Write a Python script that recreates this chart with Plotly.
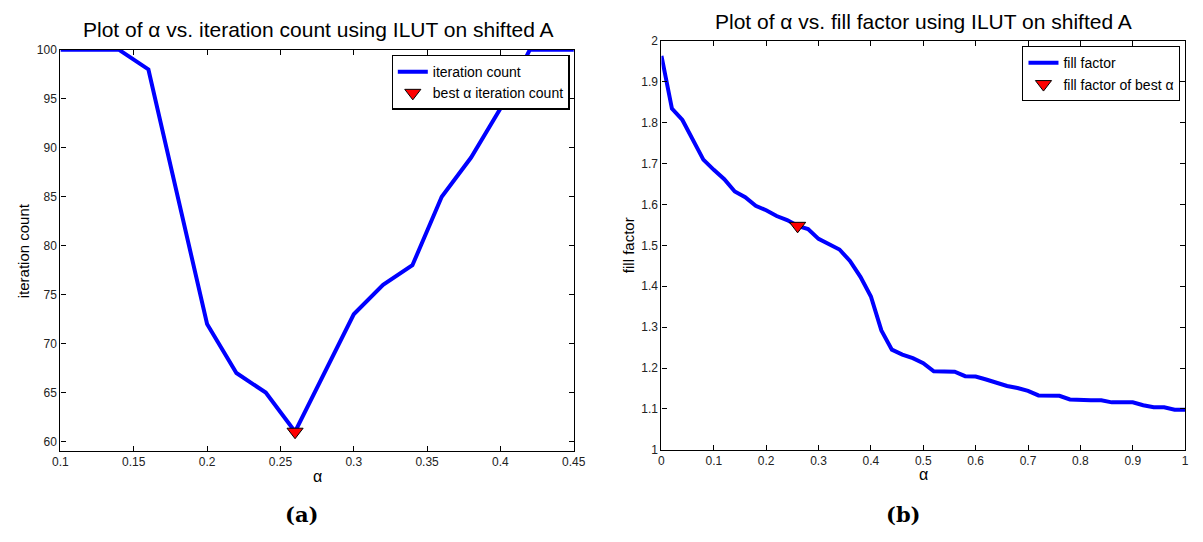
import plotly.graph_objects as go

# ---- data: panel (a) ----
alpha_a = [0.10, 0.12, 0.14, 0.16, 0.18, 0.20, 0.22, 0.24, 0.26, 0.28, 0.30,
           0.32, 0.34, 0.36, 0.38, 0.40, 0.42, 0.44, 0.46]
iter_count = [100, 100, 100, 98, 85, 72, 67, 65, 61, 67, 73,
              76, 78, 85, 89, 94, 100, 100, 100]
best_alpha_a = [0.26]
best_iter = [61]

# ---- data: panel (b) ----
alpha_b = [round(0.02 * i, 2) for i in range(51)]
fill_factor = [1.964, 1.835, 1.807, 1.758, 1.710, 1.685, 1.662, 1.632, 1.618, 1.597,
               1.586, 1.572, 1.562, 1.548, 1.540, 1.516, 1.503, 1.490, 1.462, 1.423,
               1.375, 1.292, 1.245, 1.233, 1.224, 1.212, 1.192, 1.192, 1.191, 1.180,
               1.179, 1.172, 1.164, 1.156, 1.151, 1.144, 1.133, 1.133, 1.132, 1.123,
               1.121, 1.121, 1.121, 1.116, 1.116, 1.116, 1.109, 1.104, 1.104, 1.098,
               1.098]
best_alpha_b = [0.26]
best_fill = [1.548]

xticks_a = [0.1, 0.15, 0.2, 0.25, 0.3, 0.35, 0.4, 0.45]
xticklabels_a = ["0.1", "0.15", "0.2", "0.25", "0.3", "0.35", "0.4", "0.45"]
yticks_a = [60, 65, 70, 75, 80, 85, 90, 95, 100]
xticks_b = [0, 0.1, 0.2, 0.3, 0.4, 0.5, 0.6, 0.7, 0.8, 0.9, 1]
xticklabels_b = ["0", "0.1", "0.2", "0.3", "0.4", "0.5", "0.6", "0.7", "0.8", "0.9", "1"]
yticks_b = [1, 1.1, 1.2, 1.3, 1.4, 1.5, 1.6, 1.7, 1.8, 1.9, 2]
yticklabels_b = ["1", "1.1", "1.2", "1.3", "1.4", "1.5", "1.6", "1.7", "1.8", "1.9", "2"]

W, H = 1203, 542
FONT = "Liberation Sans, Arial, sans-serif"
BLUE = "#0000ff"

def px(x):
    return x / W

def py(y):
    return 1 - y / H

fig = go.Figure()

fig.add_trace(go.Scatter(x=alpha_a, y=iter_count, mode="lines", name="iteration count",
                         line=dict(color=BLUE, width=4), xaxis="x", yaxis="y",
                         legend="legend"))
fig.add_trace(go.Scatter(x=best_alpha_a, y=best_iter, mode="markers",
                         name="best \u03b1 iteration count",
                         marker=dict(symbol="triangle-down", size=14, color="#ff0000",
                                     line=dict(color="black", width=1)),
                         xaxis="x", yaxis="y", legend="legend", cliponaxis=False))

fig.add_trace(go.Scatter(x=alpha_b, y=fill_factor, mode="lines", name="fill factor",
                         line=dict(color=BLUE, width=4), xaxis="x2", yaxis="y2",
                         legend="legend2"))
fig.add_trace(go.Scatter(x=best_alpha_b, y=best_fill, mode="markers",
                         name="fill factor of best \u03b1",
                         marker=dict(symbol="triangle-down", size=14, color="#ff0000",
                                     line=dict(color="black", width=1)),
                         xaxis="x2", yaxis="y2", legend="legend2"))

axis_common = dict(showline=True, linecolor="black", linewidth=1.3, mirror="allticks",
                   ticks="inside", ticklen=5, tickcolor="black", showgrid=False,
                   zeroline=False, tickfont=dict(family=FONT, size=12, color="#222"))

fig.update_layout(
    width=W, height=H,
    margin=dict(l=0, r=0, t=0, b=0),
    paper_bgcolor="white", plot_bgcolor="white",
    font=dict(family=FONT, size=12, color="black"),
    xaxis=dict(domain=[px(53.3), px(575.3)], range=[0.1, 0.45], tickvals=xticks_a,
               ticktext=xticklabels_a, anchor="y", **axis_common),
    yaxis=dict(domain=[py(455.7), py(44)], range=[59.04, 100], tickvals=yticks_a,
               anchor="x", **axis_common),
    xaxis2=dict(domain=[px(664.5), px(1197)], range=[0, 1], tickvals=xticks_b,
                ticktext=xticklabels_b, anchor="y2", **axis_common),
    yaxis2=dict(domain=[py(454.5), py(35)], range=[1, 2], tickvals=yticks_b,
                ticktext=yticklabels_b, anchor="x2", **axis_common),
    legend=dict(x=px(571), y=py(49), xanchor="right", yanchor="top",
                bgcolor="white", bordercolor="black", borderwidth=1.3,
                font=dict(family=FONT, size=14, color="black"),
                tracegroupgap=0, itemwidth=30),
    legend2=dict(x=px(1192), y=py(40), xanchor="right", yanchor="top",
                 bgcolor="white", bordercolor="black", borderwidth=1.3,
                 font=dict(family=FONT, size=14, color="black"),
                 tracegroupgap=0, itemwidth=30),
    showlegend=True,
)

annotations = [
    dict(text="Plot of \u03b1 vs. iteration count using ILUT on shifted A",
         x=px(316), y=py(23), font=dict(size=21)),
    dict(text="Plot of \u03b1 vs. fill factor using ILUT on shifted A",
         x=px(931), y=py(15), font=dict(size=21)),
    dict(text="\u03b1", x=px(315), y=py(482), font=dict(size=16)),
    dict(text="\u03b1", x=px(931), y=py(480), font=dict(size=16)),
    dict(text="iteration count", x=px(16), y=py(250), textangle=-90, font=dict(size=15)),
    dict(text="fill factor", x=px(631), y=py(245), textangle=-90, font=dict(size=15)),
    dict(text="<b>(a)</b>", x=px(298), y=py(521),
         font=dict(family="DejaVu Serif, Liberation Serif, serif", size=21)),
    dict(text="<b>(b)</b>", x=px(911), y=py(521),
         font=dict(family="DejaVu Serif, Liberation Serif, serif", size=21)),
]
for a in annotations:
    f = dict(family=FONT, color="black")
    f.update(a.pop("font"))
    fig.add_annotation(xref="paper", yref="paper", showarrow=False,
                       xanchor="center", yanchor="middle", font=f, **a)

fig.write_html("out.html")
